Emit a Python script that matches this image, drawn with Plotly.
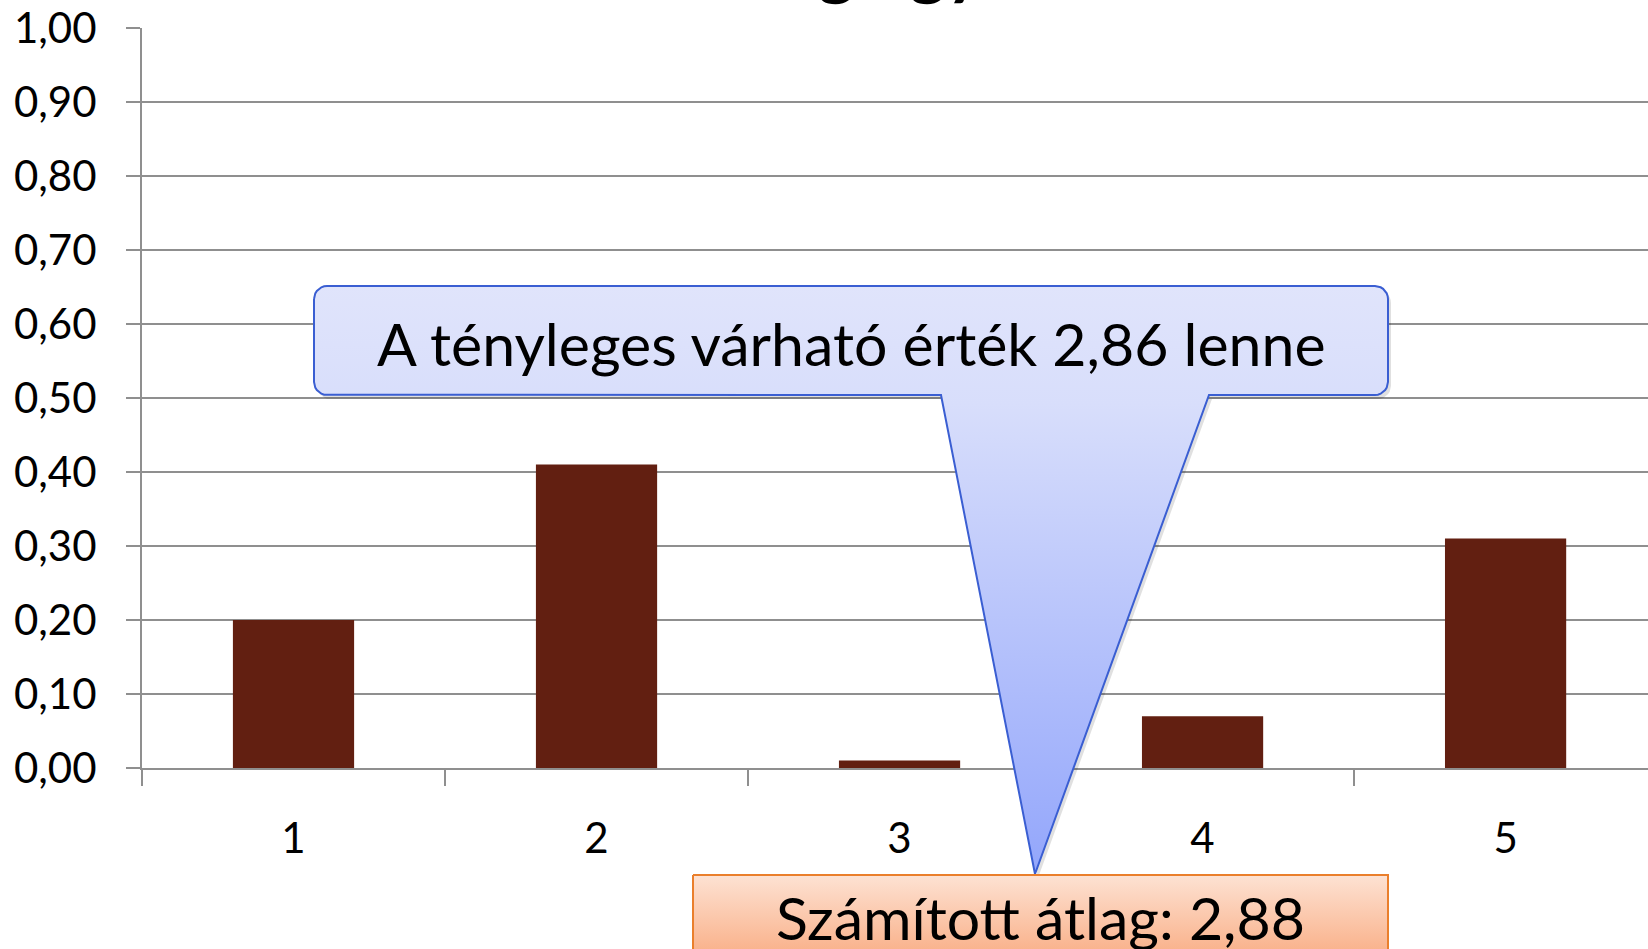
import numpy as np
import plotly.graph_objects as go

W, H = 1648, 949

# adatok
ertekek = ["1", "2", "3", "4", "5"]
gyakorisag = [0.20, 0.41, 0.01, 0.07, 0.31]
y_tickek = [0.0, 0.1, 0.2, 0.3, 0.4, 0.5, 0.6, 0.7, 0.8, 0.9, 1.0]
cim = "Az átlag egy becslés"
szoveg_kek = "A tényleges várható érték 2,86 lenne"
szoveg_narancs = "Számított átlag: 2,88"

betu = "Lato"
szurke = "#8f8f8f"
barna = "#621f11"

# rajzterület pixelben (bal, felső, alsó)
bal, felso, also = 142, 28, 768


def lekerekitett(x0, y0, x1, y1, r, csucs=None, n=8):
    """lekerekített téglalap pontjai, opcionálisan lefelé mutató nyúlvánnyal"""
    xs, ys = [], []

    def iv(cx, cy, a0, a1):
        for a in np.linspace(a0, a1, n):
            xs.append(cx + r * np.cos(a))
            ys.append(cy + r * np.sin(a))

    iv(x0 + r, y0 + r, np.pi, 1.5 * np.pi)
    iv(x1 - r, y0 + r, 1.5 * np.pi, 2 * np.pi)
    iv(x1 - r, y1 - r, 0, 0.5 * np.pi)
    if csucs:
        (bx1, cx, cy, bx0) = csucs
        xs += [bx1, cx, bx0]
        ys += [y1, cy, y1]
    iv(x0 + r, y1 - r, 0.5 * np.pi, np.pi)
    xs.append(xs[0])
    ys.append(ys[0])
    return xs, ys


fig = go.Figure()
fig.add_bar(
    x=ertekek,
    y=gyakorisag,
    marker=dict(color=barna, line=dict(width=0)),
    hoverinfo="skip",
)

# kék szövegbuborék
kx, ky = lekerekitett(314, 286, 1388, 395, 13, csucs=(1209, 1035, 874, 941))
fig.add_scatter(
    x=[v + 3 for v in kx], y=[v + 4 for v in ky],
    xaxis="x2", yaxis="y2", mode="lines", fill="toself",
    fillcolor="rgba(0,0,0,0.12)", line=dict(width=0), hoverinfo="skip",
)
fig.add_scatter(
    x=kx, y=ky, xaxis="x2", yaxis="y2", mode="lines", fill="toself",
    fillgradient=dict(
        type="vertical", start=286, stop=874,
        colorscale=[[0, "#e0e4fb"], [0.2, "#d8defb"], [1, "#93a6fb"]],
    ),
    line=dict(color="#3a5ed2", width=2), hoverinfo="skip",
)

# narancs doboz
nx = [693, 1388, 1388, 693, 693]
ny = [875, 875, 970, 970, 875]
fig.add_scatter(
    x=nx, y=ny, xaxis="x2", yaxis="y2", mode="lines", fill="toself",
    fillgradient=dict(
        type="vertical", start=875, stop=960,
        colorscale=[[0, "#fde2d3"], [1, "#f9ad84"]],
    ),
    line=dict(color="#ea7f2c", width=2), hoverinfo="skip",
)

fig.add_annotation(
    x=851, y=343, xref="x2", yref="y2", text=szoveg_kek, showarrow=False,
    font=dict(family=betu, size=59, color="black"), yanchor="middle",
)
fig.add_annotation(
    x=1040, y=917, xref="x2", yref="y2", text=szoveg_narancs,
    showarrow=False, font=dict(family=betu, size=59, color="black"),
    yanchor="middle",
)
# a cím nagy része kilóg a képből
fig.add_annotation(
    x=915, y=8, xref="x2", yref="y2", text="<b>" + cim + "</b>",
    showarrow=False, font=dict(family=betu, size=70, color="black"),
    yanchor="bottom",
)

fig.update_layout(
    width=W,
    height=H,
    margin=dict(l=0, r=0, t=0, b=0),
    showlegend=False,
    separators=", ",
    bargap=0.6,
    plot_bgcolor="rgba(0,0,0,0)",
    paper_bgcolor="white",
    xaxis=dict(
        domain=[bal / W, 1],
        type="category",
        range=[-0.5, 4.47],
        tickson="boundaries",
        ticks="outside",
        ticklen=16,
        tickwidth=2,
        tickcolor=szurke,
        showline=True,
        linecolor=szurke,
        linewidth=2,
        showgrid=False,
        tickfont=dict(family=betu, size=42, color="black"),
        ticklabelstandoff=33,
        automargin=False,
    ),
    yaxis=dict(
        domain=[(H - also) / H, (H - felso) / H],
        range=[0, 1],
        tickvals=y_tickek,
        tickformat=".2f",
        ticks="outside",
        ticklen=14,
        tickwidth=2,
        tickcolor=szurke,
        showgrid=True,
        gridcolor=szurke,
        gridwidth=2,
        zeroline=False,
        showline=True,
        linecolor=szurke,
        linewidth=2,
        tickfont=dict(family=betu, size=42, color="black"),
        ticklabelstandoff=21,
        automargin=False,
    ),
    xaxis2=dict(domain=[0, 1], range=[0, W], visible=False, anchor="y2"),
    yaxis2=dict(domain=[0, 1], range=[H, 0], visible=False, anchor="x2"),
)

fig.write_html(
    "out.html",
    config={"displayModeBar": False},
    post_script="document.body.style.margin='0';",
)
